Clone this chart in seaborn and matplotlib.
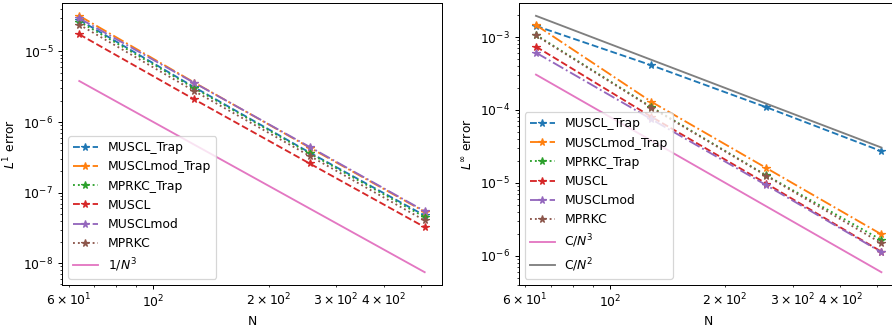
import numpy as np
import matplotlib
matplotlib.use("Agg")
import matplotlib.pyplot as plt
import seaborn as sns

N = [64, 128, 256, 512]

# L1 errors
l1_muscl_trap = [2.80e-5, 3.11e-6, 3.70e-7, 4.74e-8]
l1_musclmod_trap = [3.20e-5, 3.62e-6, 4.35e-7, 5.35e-8]
l1_mprkc_trap = [2.65e-5, 3.01e-6, 3.60e-7, 4.50e-8]
l1_muscl = [1.75e-5, 2.09e-6, 2.59e-7, 3.24e-8]
l1_musclmod = [2.95e-5, 3.58e-6, 4.45e-7, 5.46e-8]
l1_mprkc = [2.40e-5, 2.74e-6, 3.32e-7, 4.03e-8]

# Linf errors
li_muscl_trap = [1.42e-3, 4.11e-4, 1.09e-4, 2.72e-5]
li_musclmod_trap = [1.46e-3, 1.30e-4, 1.60e-5, 1.97e-6]
li_mprkc_trap = [1.07e-3, 1.10e-4, 1.27e-5, 1.65e-6]
li_muscl = [7.38e-4, 8.10e-5, 9.80e-6, 1.14e-6]
li_musclmod = [6.10e-4, 7.50e-5, 9.30e-6, 1.12e-6]
li_mprkc = [1.05e-3, 1.08e-4, 1.25e-5, 1.49e-6]

names = ["MUSCL_Trap", "MUSCLmod_Trap", "MPRKC_Trap", "MUSCL", "MUSCLmod", "MPRKC"]
styles = ["--", "-.", ":", "--", "-.", ":"]
colors = ["C0", "C1", "C2", "C3", "C4", "C5"]

# constants of the reference slopes
C3 = 80.0
C2 = 8.0

dpi = 89
fig, axes = plt.subplots(1, 2, figsize=(892 / dpi, 327 / dpi), dpi=dpi)
fig.subplots_adjust(left=0.0695, right=1.0075, bottom=0.1284, top=0.9908, wspace=0.202)

l1_sets = [l1_muscl_trap, l1_musclmod_trap, l1_mprkc_trap, l1_muscl, l1_musclmod, l1_mprkc]
li_sets = [li_muscl_trap, li_musclmod_trap, li_mprkc_trap, li_muscl, li_musclmod, li_mprkc]
Na = np.array(N, dtype=float)

ax = axes[0]
for name, vals, ls, c in zip(names, l1_sets, styles, colors):
    sns.lineplot(x=N, y=vals, ax=ax, label=name, color=c, linestyle=ls,
                 marker="*", markeredgecolor=c, markeredgewidth=1)
sns.lineplot(x=N, y=1.0 / Na**3, ax=ax, label="$1/N^3$", color="C6")
ax.set_xscale("log")
ax.set_yscale("log")
ax.set_xlabel("N")
ax.set_ylabel("$L^1$ error")
ax.legend(loc="lower left")

ax = axes[1]
for name, vals, ls, c in zip(names, li_sets, styles, colors):
    sns.lineplot(x=N, y=vals, ax=ax, label=name, color=c, linestyle=ls,
                 marker="*", markeredgecolor=c, markeredgewidth=1)
sns.lineplot(x=N, y=C3 / Na**3, ax=ax, label="C/$N^3$", color="C6")
sns.lineplot(x=N, y=C2 / Na**2, ax=ax, label="C/$N^2$", color="C7")
ax.set_xscale("log")
ax.set_yscale("log")
ax.set_xlabel("N")
ax.set_ylabel("$L^\\infty$ error")
ax.legend(loc="lower left")

plt.savefig("out.png", dpi=dpi)
